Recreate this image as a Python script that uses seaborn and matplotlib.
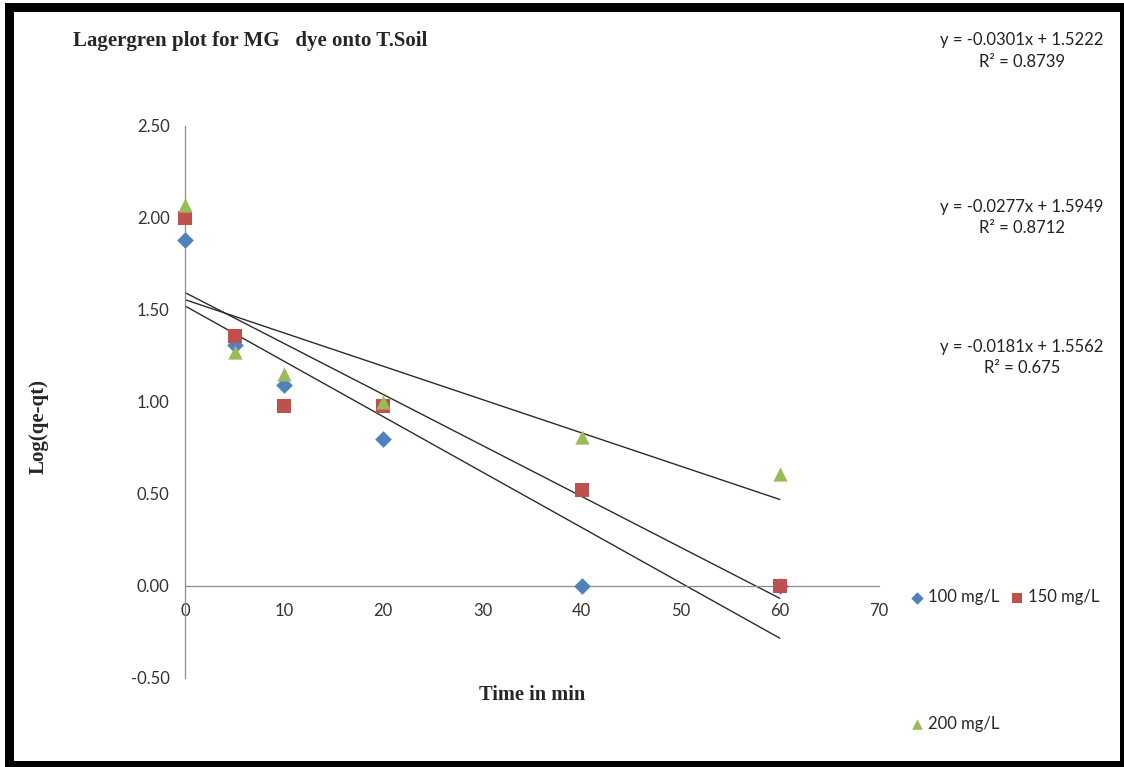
import numpy as np
import pandas as pd
import matplotlib
matplotlib.use("Agg")
import matplotlib.pyplot as plt
from matplotlib.patches import Rectangle
import seaborn as sns

# Contact time (min)
time_min = [0, 5, 10, 20, 40, 60]

# log(qe - qt) for each initial dye concentration
log_100 = [1.88, 1.31, 1.09, 0.80, 0.00, 0.00]
log_150 = [2.00, 1.36, 0.98, 0.98, 0.52, 0.00]
log_200 = [2.07, 1.27, 1.15, 1.00, 0.81, 0.61]

series_labels = ["100 mg/L", "150 mg/L", "200 mg/L"]

# Linear trendline coefficients and fit quality
slopes = [-0.0301, -0.0277, -0.0181]
intercepts = [1.5222, 1.5949, 1.5562]
r_squared = ["0.8739", "0.8712", "0.675"]

x_ticks = [0, 10, 20, 30, 40, 50, 60, 70]
y_ticks = [-0.50, 0.00, 0.50, 1.00, 1.50, 2.00, 2.50]

sns.set_theme(style="white")
plt.rcParams["font.family"] = ["Lato", "DejaVu Sans"]
plt.rcParams["axes.unicode_minus"] = False

W, H = 1124, 767
fig = plt.figure(figsize=(W / 100, H / 100), dpi=100)
fig.patch.set_facecolor("white")

# chart frame: thick black border
fig.add_artist(Rectangle((5 / W, 0), 1 - 5 / W, 1 - 3 / H, transform=fig.transFigure,
                         facecolor="black", edgecolor="none", zorder=-10))
fig.add_artist(Rectangle((14 / W, 6 / H), (1120 - 14) / W, (761 - 12) / H,
                         transform=fig.transFigure, facecolor="white",
                         edgecolor="none", zorder=-9))

ax = fig.add_axes([185 / W, 1 - 678 / H, (879 - 185) / W, (678 - 126) / H])
ax.set_facecolor("none")

df = pd.DataFrame({"time": time_min, "100 mg/L": log_100,
                   "150 mg/L": log_150, "200 mg/L": log_200})

colors = ["#4F81BD", "#C0504D", "#9BBB59"]
markers = ["D", "s", "^"]
sizes = [72, 92, 105]

for lab, col, mk, sz in zip(series_labels, colors, markers, sizes):
    sns.scatterplot(data=df, x="time", y=lab, marker=mk, s=sz, color=col,
                    linewidth=0, ax=ax, label=lab, zorder=3, clip_on=False)

# trendlines over the measured time range
x_fit = np.array([min(time_min), max(time_min)])
for m, b in zip(slopes, intercepts):
    sns.lineplot(x=x_fit, y=m * x_fit + b, color="#2b2b2b", linewidth=1.0,
                 ax=ax, zorder=2)

ax.set_xlim(0, 70)
ax.set_ylim(-0.5, 2.5)
ax.set_xticks(x_ticks)
ax.set_yticks(y_ticks)
ax.set_xticklabels([str(v) for v in x_ticks])
ax.set_yticklabels([f"{v:.2f}" for v in y_ticks])

for side in ["top", "right"]:
    ax.spines[side].set_visible(False)
ax.spines["left"].set_position(("data", 0))
ax.spines["bottom"].set_position(("data", 0))
for side in ["left", "bottom"]:
    ax.spines[side].set_color("#8c8c8c")
    ax.spines[side].set_linewidth(0.9)

ax.tick_params(axis="both", length=0, labelsize=12, labelcolor="#333333")
ax.tick_params(axis="x", pad=12)
ax.tick_params(axis="y", pad=11)
ax.set_xlabel("")
ax.set_ylabel("")
ax.grid(False)

serif_bold = dict(family=["Liberation Serif", "DejaVu Serif"], weight="bold")
fig.text(73 / W, 1 - 41 / H, "Lagergren plot for MG   dye onto T.Soil",
         fontsize=15, ha="left", va="center", **serif_bold)
fig.text(532 / W, 1 - 695 / H, "Time in min", fontsize=14.7, ha="center",
         va="center", **serif_bold)
fig.text(39 / W, 1 - 427 / H, "Log(qe-qt)", fontsize=15, ha="center",
         va="center", rotation=90, **serif_bold)

# trendline equations
eq_y = [40, 207, 347]
r2_y = [62, 228, 368]
for m, b, r2, yy, ry in zip(slopes, intercepts, r_squared, eq_y, r2_y):
    fig.text(1022 / W, 1 - yy / H, f"y = {m:.4f}x + {b:.4f}",
             fontsize=12, ha="center", va="center", color="#222222")
    fig.text(1022 / W, 1 - ry / H, f"R\u00b2 = {r2}",
             fontsize=12, ha="center", va="center", color="#222222")

# legend: two entries on the first row, one on the second
h, l = ax.get_legend_handles_labels()
if ax.legend_:
    ax.legend_.remove()
order = [0, 2, 1]
fig.legend([h[i] for i in order], [l[i] for i in order], ncol=2,
           loc="upper left", bbox_to_anchor=(912 / W, 1 - 589 / H),
           frameon=False, fontsize=12, handlelength=0.6, handletextpad=0.35,
           columnspacing=0.75, labelspacing=6.65, borderaxespad=0,
           borderpad=0, markerscale=0.75)

fig.savefig("out.png", dpi=100, facecolor="white")
